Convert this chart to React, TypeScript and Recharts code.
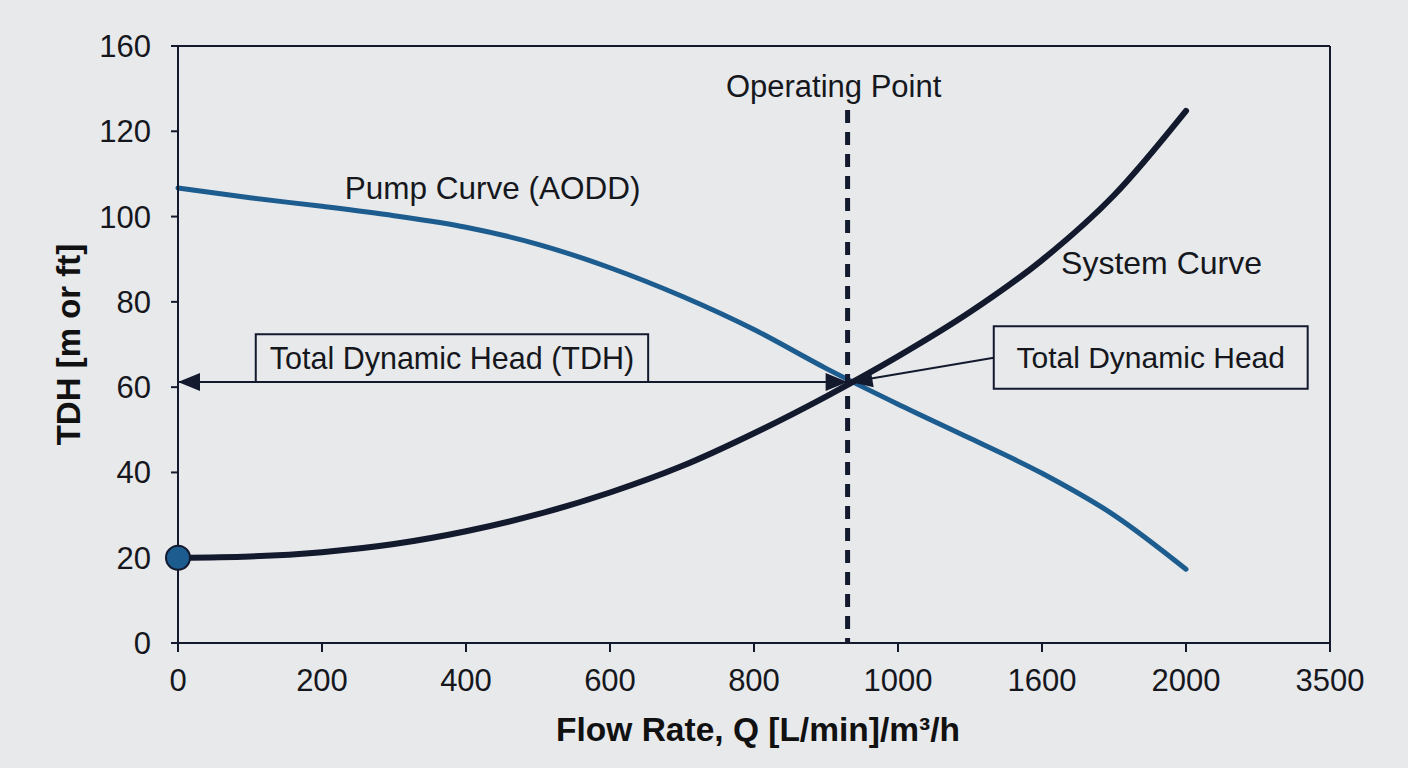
import { LineChart, Line, XAxis, YAxis, ReferenceLine, ReferenceArea, ReferenceDot, Label } from 'recharts';

// Flow axis: evenly spaced ticks, labelled with the printed values
const flowTicks = [0, 200, 400, 600, 800, 1000, 1200, 1400, 1600];
const flowTickLabels = ['0', '200', '400', '600', '800', '1000', '1600', '2000', '3500'];
const headTicks = [0, 20, 40, 60, 80, 100, 120, 140];
const headTickLabels = ['0', '20', '40', '60', '80', '100', '120', '160'];

// curve samples, flow in axis units
const flow = [0, 100, 200, 300, 400, 500, 600, 700, 800, 900, 1000, 1100, 1200, 1300, 1400];
const pumpHead = [106.7, 104.4, 102.4, 100.2, 97.5, 93.5, 88, 81.3, 73.5, 64.4, 56, 48, 39.8, 30, 17.3];
const systemHead = [20, 20.3, 21.3, 23.2, 26.2, 30.2, 35.3, 41.5, 49.2, 57.8, 67.2, 77.6, 89.8, 105, 124.8];

const staticHead = 20;
const operatingFlow = 930;
const operatingHead = 61.2;
const operatingLineTop = 125;

const data = flow.map((q, i) => ({ q, pump: pumpHead[i], system: systemHead[i] }));

const INK = '#131a2e';
const BLUE = '#1d5c8f';
const PAPER = '#e7e9eb';
const FONT = '"Liberation Sans", Arial, sans-serif';

const tickLabel = (ticks: number[], labels: string[]) => (v: number) => labels[ticks.indexOf(v)] ?? String(v);

// line with filled arrowheads at either end
const arrow = (atStart: boolean, atEnd: boolean) => (p: any) => {
  const { x1, y1, x2, y2 } = p;
  const head = (tx: number, ty: number, fx: number, fy: number) => {
    const a = Math.atan2(ty - fy, tx - fx);
    const len = 22;
    const half = 9;
    const bx = tx - len * Math.cos(a);
    const by = ty - len * Math.sin(a);
    const pts = [
      [tx, ty],
      [bx + half * Math.sin(a), by - half * Math.cos(a)],
      [bx - half * Math.sin(a), by + half * Math.cos(a)],
    ];
    return <polygon points={pts.map((c) => c.join(',')).join(' ')} fill={INK} />;
  };
  return (
    <g>
      <line x1={x1} y1={y1} x2={x2} y2={y2} stroke={INK} strokeWidth={2} />
      {atStart && head(x1, y1, x2, y2)}
      {atEnd && head(x2, y2, x1, y1)}
    </g>
  );
};

const boxText = { fontFamily: FONT, fontSize: 30, fill: '#15171d' };
const curveText = { fontFamily: FONT, fontSize: 32, fill: '#15171d' };

export default function App() {
  return (
    <div style={{ position: 'fixed', left: 0, top: 0, width: 1408, height: 768, background: PAPER, padding: 8, boxSizing: 'border-box' }}>
      <LineChart width={1392} height={752} data={data} margin={{ top: 38, right: 70, left: 60, bottom: 47 }}>
        <XAxis
          dataKey="q"
          type="number"
          domain={[0, 1600]}
          ticks={flowTicks}
          tickFormatter={tickLabel(flowTicks, flowTickLabels)}
          height={70}
          tickSize={9}
          tickMargin={17}
          axisLine={{ stroke: INK, strokeWidth: 2 }}
          tickLine={{ stroke: INK, strokeWidth: 2 }}
          tick={{ fill: '#15171d', fontSize: 31, fontFamily: FONT }}
        >
          <Label
            value="Flow Rate, Q [L/min]/m³/h"
            position="insideBottom"
            offset={-28}
            dx={4}
            fill="#111"
            fontSize={33.5}
            fontWeight="bold"
            fontFamily={FONT}
          />
        </XAxis>
        <YAxis
          type="number"
          domain={[0, 140]}
          ticks={headTicks}
          tickFormatter={tickLabel(headTicks, headTickLabels)}
          width={110}
          tickSize={7}
          tickMargin={20}
          axisLine={{ stroke: INK, strokeWidth: 2 }}
          tickLine={{ stroke: INK, strokeWidth: 2 }}
          tick={{ fill: '#15171d', fontSize: 31, fontFamily: FONT }}
        >
          <Label
            value="TDH [m or ft]"
            angle={-90}
            position="insideLeft"
            offset={0}
            fill="#111"
            fontSize={33}
            fontWeight="bold"
            fontFamily={FONT}
            style={{ textAnchor: 'middle' }}
          />
        </YAxis>

        {/* frame: top and right edges */}
        <ReferenceLine y={140} stroke={INK} strokeWidth={2} />
        <ReferenceLine x={1600} stroke={INK} strokeWidth={2} />

        <ReferenceArea
          x1={108}
          x2={653}
          y1={operatingHead}
          y2={72.4}
          fill={PAPER}
          fillOpacity={1}
          stroke={INK}
          strokeWidth={2}
          label={{ value: 'Total Dynamic Head (TDH)', position: 'center', ...boxText, fontSize: 30.5 }}
        />
        <ReferenceArea
          x1={1133}
          x2={1569}
          y1={59.6}
          y2={74.3}
          fill={PAPER}
          fillOpacity={1}
          stroke={INK}
          strokeWidth={2}
          label={{ value: 'Total Dynamic Head', position: 'center', ...boxText }}
        />

        <Line dataKey="pump" type="monotone" stroke={BLUE} strokeWidth={5} strokeLinecap="round" dot={false} isAnimationActive={false} />
        <Line dataKey="system" type="monotone" stroke={INK} strokeWidth={6} strokeLinecap="round" dot={false} isAnimationActive={false} />

        <ReferenceLine
          segment={[{ x: operatingFlow, y: operatingHead }, { x: 0, y: operatingHead }]}
          shape={arrow(true, true)}
        />
        <ReferenceLine
          segment={[{ x: 1133, y: 66.9 }, { x: operatingFlow + 4, y: operatingHead }]}
          shape={arrow(false, true)}
        />

        <ReferenceLine
          segment={[{ x: operatingFlow, y: operatingLineTop }, { x: operatingFlow, y: 0 }]}
          stroke={INK}
          strokeWidth={5}
          strokeDasharray="13 9"
          label={{
            content: (p: any) => (
              <text x={p.viewBox.x - 14} y={p.viewBox.y - 13} textAnchor="middle" {...boxText} fontSize={31}>
                Operating Point
              </text>
            ),
          }}
        />

        <ReferenceDot x={0} y={staticHead} r={12} fill={BLUE} stroke={INK} strokeWidth={2} />

        <ReferenceDot x={437} y={106.7} r={0} label={{ value: 'Pump Curve (AODD)', position: 'center', ...curveText, fontSize: 31.5 }} />
        <ReferenceDot x={1366} y={89.3} r={0} label={{ value: 'System Curve', position: 'center', ...curveText }} />
      </LineChart>
    </div>
  );
}
